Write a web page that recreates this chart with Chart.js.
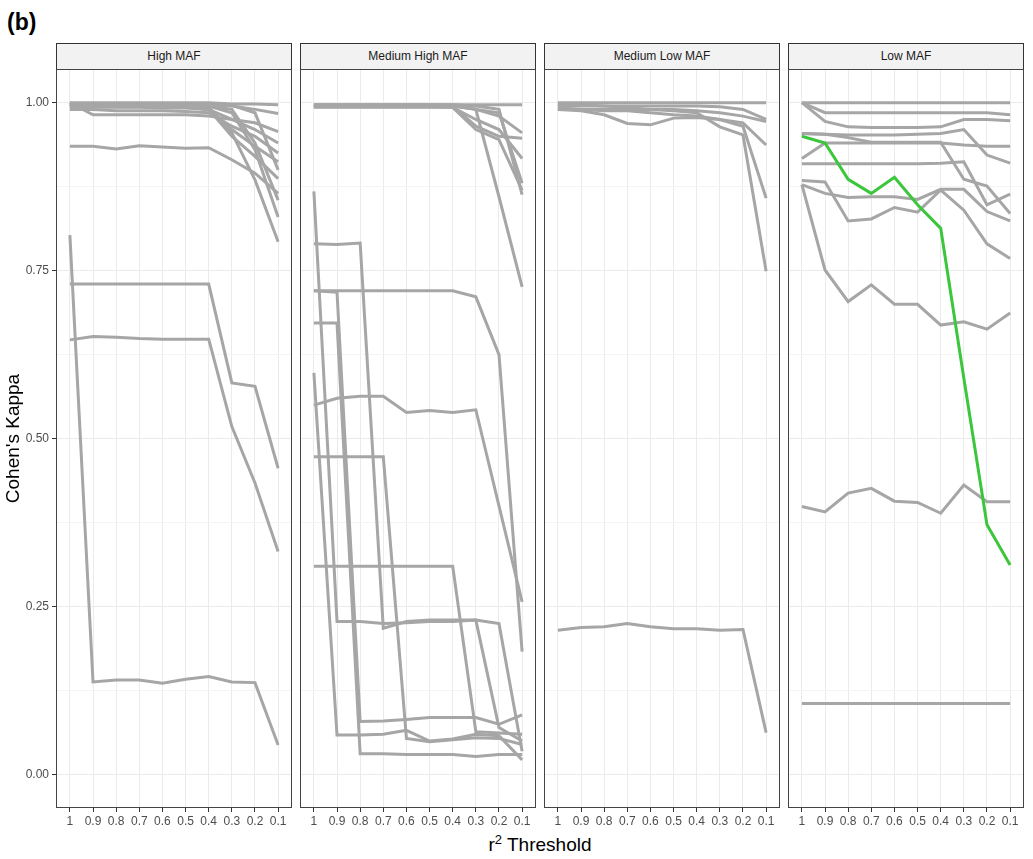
<!DOCTYPE html>
<html lang="en">

<head>
    <meta charset="UTF-8">
    <title>Cohen's Kappa by r2 Threshold</title>
    <script src="https://cdn.jsdelivr.net/npm/chart.js"></script>
    <style>
        body { margin: 0; background: #fff; font-family: "Liberation Sans", Arial, sans-serif; }
        #wrap { position: relative; width: 1033px; height: 859px; overflow: hidden; }
        .panel { position: absolute; top: 69px; }
        .strip {
            position: absolute; top: 43px; height: 27px; width: 236px; box-sizing: border-box;
            border: 1px solid #333; background: #f2f2f2; color: #1a1a1a;
            font-size: 12px; line-height: 25px; text-align: center;
        }
        #tag { position: absolute; left: 7px; top: 9px; font-size: 23px; font-weight: bold; }
        #xtitle { position: absolute; left: 0; width: 1080px; top: 832px; text-align: center; font-size: 19px; }
        #xtitle sup { font-size: 13px; }
    </style>
</head>

<body>
    <div id="wrap">
        <div id="tag">(b)</div>

        <div class="strip" style="left:56px">High MAF</div>
        <div class="strip" style="left:300px">Medium High MAF</div>
        <div class="strip" style="left:544px">Medium Low MAF</div>
        <div class="strip" style="left:788px">Low MAF</div>

        <div class="panel" style="left:0px"><canvas id="c1" width="294" height="761"></canvas></div>
        <div class="panel" style="left:298px"><canvas id="c2" width="240" height="761"></canvas></div>
        <div class="panel" style="left:542px"><canvas id="c3" width="240" height="761"></canvas></div>
        <div class="panel" style="left:786px"><canvas id="c4" width="240" height="761"></canvas></div>

        <div id="xtitle">r<sup>2</sup> Threshold</div>
    </div>

    <script>
        const thresholds = ['1', '0.9', '0.8', '0.7', '0.6', '0.5', '0.4', '0.3', '0.2', '0.1'];
        const yTicks = [0, 0.125, 0.25, 0.375, 0.5, 0.625, 0.75, 0.875, 1];

        // one row per line, values at 1, 0.9, ... 0.1
        const highMaf = [
            [1.0, 1.0, 1.0, 1.0, 1.0, 1.0, 1.0, 0.998, 0.998, 0.997],
            [0.997, 0.997, 0.997, 0.997, 0.997, 0.996, 0.996, 0.995, 0.99, 0.984],
            [1.0, 0.982, 0.982, 0.982, 0.982, 0.982, 0.98, 0.975, 0.97, 0.957],
            [0.995, 0.995, 0.995, 0.995, 0.994, 0.994, 0.99, 0.975, 0.96, 0.94],
            [0.996, 0.996, 0.995, 0.995, 0.995, 0.994, 0.993, 0.96, 0.935, 0.912],
            [0.995, 0.995, 0.994, 0.994, 0.994, 0.993, 0.99, 0.95, 0.92, 0.887],
            [0.997, 0.997, 0.997, 0.996, 0.996, 0.996, 0.995, 0.99, 0.94, 0.855],
            [0.993, 0.993, 0.993, 0.993, 0.992, 0.992, 0.99, 0.955, 0.885, 0.793],
            [0.997, 0.997, 0.996, 0.996, 0.996, 0.995, 0.995, 0.985, 0.93, 0.83],
            [0.935, 0.935, 0.931, 0.936, 0.934, 0.932, 0.933, 0.915, 0.895, 0.865],
            [0.998, 0.998, 0.998, 0.998, 0.997, 0.997, 0.997, 0.996, 0.985, 0.9],
            [0.99, 0.99, 0.988, 0.988, 0.988, 0.987, 0.985, 0.965, 0.95, 0.925],
            [0.803, 0.138, 0.141, 0.141, 0.136, 0.142, 0.146, 0.138, 0.137, 0.044],
            [0.73, 0.73, 0.73, 0.73, 0.73, 0.73, 0.73, 0.583, 0.578, 0.456],
            [0.647, 0.652, 0.651, 0.649, 0.648, 0.648, 0.648, 0.518, 0.434, 0.332]
        ];

        const mediumHighMaf = [
            [0.997, 0.997, 0.997, 0.997, 0.997, 0.997, 0.997, 0.997, 0.997, 0.997],
            [0.995, 0.995, 0.995, 0.995, 0.995, 0.995, 0.995, 0.99, 0.98, 0.955],
            [0.995, 0.995, 0.995, 0.995, 0.995, 0.995, 0.995, 0.965, 0.95, 0.947],
            [0.994, 0.994, 0.994, 0.994, 0.994, 0.994, 0.993, 0.975, 0.96, 0.917],
            [0.996, 0.996, 0.996, 0.996, 0.996, 0.996, 0.996, 0.99, 0.985, 0.88],
            [0.997, 0.997, 0.997, 0.997, 0.997, 0.997, 0.997, 0.995, 0.99, 0.863],
            [0.996, 0.996, 0.996, 0.996, 0.996, 0.996, 0.995, 0.99, 0.86, 0.726],
            [0.993, 0.993, 0.993, 0.993, 0.993, 0.993, 0.993, 0.96, 0.945, 0.87],
            [0.868, 0.228, 0.228, 0.225, 0.226, 0.228, 0.228, 0.23, 0.225, 0.035],
            [0.79, 0.789, 0.791, 0.218, 0.228, 0.23, 0.23, 0.23, 0.07, 0.05],
            [0.72, 0.72, 0.72, 0.72, 0.72, 0.72, 0.72, 0.711, 0.625, 0.183],
            [0.672, 0.672, 0.031, 0.031, 0.03, 0.03, 0.03, 0.027, 0.03, 0.03],
            [0.598, 0.059, 0.059, 0.06, 0.066, 0.05, 0.053, 0.06, 0.058, 0.022],
            [0.55, 0.56, 0.563, 0.563, 0.539, 0.542, 0.539, 0.543, 0.40, 0.257],
            [0.473, 0.473, 0.473, 0.473, 0.054, 0.049, 0.052, 0.055, 0.054, 0.045],
            [0.31, 0.31, 0.31, 0.31, 0.31, 0.31, 0.31, 0.064, 0.062, 0.06],
            [0.72, 0.718, 0.079, 0.08, 0.082, 0.085, 0.085, 0.085, 0.075, 0.089]
        ];

        const mediumLowMaf = [
            [1.0, 1.0, 1.0, 1.0, 1.0, 1.0, 1.0, 1.0, 1.0, 1.0],
            [0.995, 0.995, 0.995, 0.995, 0.995, 0.995, 0.995, 0.994, 0.99, 0.975],
            [0.99, 0.99, 0.988, 0.988, 0.985, 0.982, 0.98, 0.975, 0.97, 0.937],
            [0.99, 0.988, 0.982, 0.969, 0.967, 0.977, 0.978, 0.975, 0.965, 0.858],
            [0.993, 0.99, 0.99, 0.99, 0.99, 0.988, 0.985, 0.964, 0.952, 0.749],
            [0.998, 0.997, 0.995, 0.993, 0.99, 0.99, 0.988, 0.985, 0.98, 0.972],
            [0.215, 0.219, 0.22, 0.225, 0.22, 0.217, 0.217, 0.215, 0.216, 0.0625]
        ];

        const lowMaf = [
            [1.0, 1.0, 1.0, 1.0, 1.0, 1.0, 1.0, 1.0, 1.0, 1.0],
            [1.0, 0.985, 0.985, 0.985, 0.985, 0.985, 0.985, 0.985, 0.985, 0.982],
            [1.0, 0.972, 0.964, 0.963, 0.963, 0.963, 0.964, 0.975, 0.975, 0.973],
            [0.954, 0.953, 0.952, 0.952, 0.952, 0.953, 0.954, 0.96, 0.922, 0.91],
            [0.917, 0.94, 0.94, 0.94, 0.94, 0.94, 0.94, 0.937, 0.935, 0.935],
            [0.909, 0.909, 0.909, 0.909, 0.909, 0.909, 0.91, 0.912, 0.848, 0.864],
            [0.954, 0.953, 0.948, 0.941, 0.941, 0.941, 0.941, 0.886, 0.876, 0.835],
            [0.884, 0.882, 0.824, 0.827, 0.844, 0.837, 0.87, 0.84, 0.79, 0.768],
            [0.878, 0.865, 0.859, 0.86, 0.86, 0.856, 0.871, 0.871, 0.838, 0.824],
            [0.878, 0.751, 0.704, 0.729, 0.7, 0.7, 0.669, 0.674, 0.663, 0.687],
            [0.399, 0.391, 0.419, 0.426, 0.407, 0.405, 0.389, 0.431, 0.406, 0.406],
            [0.106, 0.106, 0.106, 0.106, 0.106, 0.106, 0.106, 0.106, 0.106, 0.106]
        ];

        // highlighted line in the Low MAF panel
        const lowMafHighlight = [0.95, 0.94, 0.886, 0.865, 0.889, 0.848, 0.813, 0.59, 0.372, 0.312];

        const grayLine = '#a6a6a6';
        const greenLine = '#3cc63c';

        const isMajor = v => Math.abs(v * 4 - Math.round(v * 4)) < 1e-6;

        // panel border drawn on top like ggplot's theme_bw
        const panelBorder = {
            id: 'panelBorder',
            afterDraw(chart) {
                const a = chart.chartArea;
                const ctx = chart.ctx;
                ctx.save();
                ctx.strokeStyle = '#444';
                ctx.lineWidth = 1;
                ctx.strokeRect(a.left + 0.5, a.top + 0.5, a.right - a.left - 1, a.bottom - a.top - 1);
                ctx.restore();
            }
        };

        function toDataset(values, color) {
            return {
                data: values.map((v, i) => ({ x: i, y: v })),
                borderColor: color,
                borderWidth: 3,
                pointRadius: 0,
                fill: false,
                tension: 0
            };
        }

        function makePanel(id, lines, highlight, withYAxis) {
            const datasets = [];
            if (highlight) datasets.push(toDataset(highlight, greenLine)); // first = drawn on top
            lines.forEach(l => datasets.push(toDataset(l, grayLine)));

            new Chart(document.getElementById(id), {
                type: 'line',
                data: { datasets: datasets },
                options: {
                    responsive: false,
                    animation: false,
                    layout: { padding: { left: withYAxis ? 0 : 2, right: 2, top: 0, bottom: 0 } },
                    plugins: { legend: { display: false }, tooltip: { enabled: false } },
                    scales: {
                        x: {
                            type: 'linear',
                            min: -0.6,
                            max: 9.6,
                            afterBuildTicks: s => { s.ticks = thresholds.map((t, i) => ({ value: i })); },
                            afterFit: s => { s.height = 22; s.paddingLeft = 0; s.paddingRight = 0; },
                            grid: { color: '#ebebeb', lineWidth: 1, tickLength: 4, tickColor: '#333' },
                            border: { display: false },
                            ticks: {
                                autoSkip: false,
                                maxRotation: 0,
                                padding: 2,
                                color: '#4d4d4d',
                                font: { family: 'Liberation Sans', size: 12 },
                                callback: v => thresholds[v]
                            }
                        },
                        y: {
                            min: -0.0496,
                            max: 1.0501,
                            afterBuildTicks: s => { s.ticks = yTicks.map(v => ({ value: v })); },
                            afterFit: s => {
                                s.width = withYAxis ? 56 : 0;
                                s.paddingTop = 0;
                                s.paddingBottom = 0;
                            },
                            grid: {
                                color: c => isMajor(c.tick.value) ? '#ebebeb' : '#f4f4f4',
                                lineWidth: 1,
                                drawTicks: withYAxis,
                                tickLength: 4,
                                tickColor: c => isMajor(c.tick.value) ? '#333' : 'rgba(0,0,0,0)'
                            },
                            border: { display: false },
                            ticks: {
                                display: withYAxis,
                                padding: 3,
                                color: '#4d4d4d',
                                font: { family: 'Liberation Sans', size: 12 },
                                callback: v => isMajor(v) ? v.toFixed(2) : ''
                            },
                            title: {
                                display: withYAxis,
                                text: "Cohen's Kappa",
                                color: '#000',
                                padding: { top: 2, bottom: 0 },
                                font: { family: 'Liberation Sans', size: 19 }
                            }
                        }
                    }
                },
                plugins: [panelBorder]
            });
        }

        makePanel('c1', highMaf, null, true);
        makePanel('c2', mediumHighMaf, null, false);
        makePanel('c3', mediumLowMaf, null, false);
        makePanel('c4', lowMaf, lowMafHighlight, false);
    </script>
</body>

</html>
